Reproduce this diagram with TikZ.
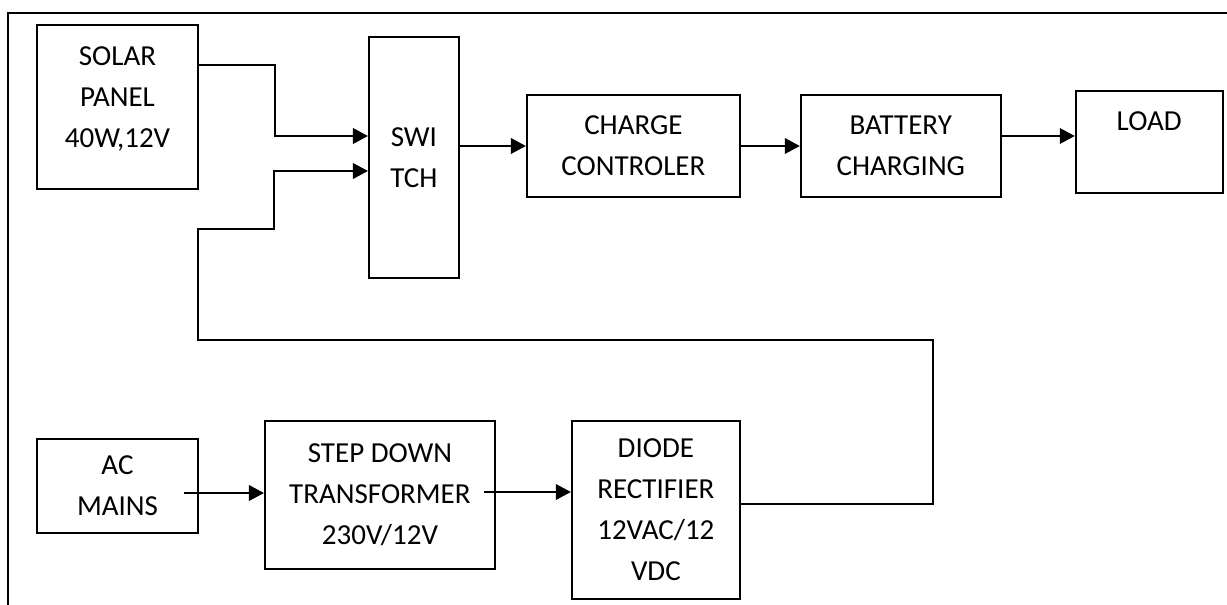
\documentclass[tikz,border=0pt]{standalone}
\usepackage{fontspec}
\setmainfont{Carlito}
\usetikzlibrary{arrows.meta,positioning}
\tikzset{
  unitbox/.style={rectangle, draw=black, line width=1.1pt, align=center,
    font=\fontsize{16.5pt}{23.3pt}\selectfont, inner sep=2pt},
  powerarrow/.style={-{Triangle[length=0.3cm,width=0.31cm]}, draw=black, line width=1.15pt},
}

\begin{document}
\begin{tikzpicture}
  \useasboundingbox (0,0) rectangle (24.54,-12.1);

  % Page frame (only top and left edges show)
  \draw[line width=1.4pt] (0.16,-12.1) |- (24.54,-0.26);

  % Solar side (top row, from left to right)
  \node[unitbox, minimum width=3.22cm, minimum height=3.28cm] (solar) at (2.35,-2.14) {SOLAR\\PANEL\\40W,12V\\[-0.42cm]\mbox{}};
  \node[unitbox, minimum width=1.8cm, minimum height=4.82cm, right=3.38cm of solar, yshift=-1.01cm] (sw) {SWI\\TCH};
  \node[unitbox, minimum width=4.26cm, minimum height=2.04cm, right=1.32cm of sw, yshift=0.23cm] (cc) {CHARGE\\CONTROLER};
  \node[unitbox, minimum width=4cm, minimum height=2.04cm, right=1.18cm of cc] (bat) {BATTERY\\CHARGING};
  \node[unitbox, minimum width=2.94cm, minimum height=2.04cm, right=1.46cm of bat, yshift=0.08cm] (load) {LOAD\\\mbox{}};

  % Mains side (bottom row)
  \node[unitbox, minimum width=3.22cm, minimum height=1.88cm] (mains) at (2.35,-9.72) {AC\\MAINS};
  \node[unitbox, minimum width=4.6cm, minimum height=2.96cm, right=1.3cm of mains, yshift=-0.18cm] (tr) {STEP DOWN\\TRANSFORMER\\230V/12V};
  \node[unitbox, minimum width=3.36cm, minimum height=3.56cm, right=1.5cm of tr, yshift=-0.3cm] (rect) {DIODE\\RECTIFIER\\12VAC/12\\VDC};

  % Bends and line ends
  \coordinate (solarout) at ([yshift=0.84cm]solar.east);
  \coordinate (turnR) at (18.66,-6.8);
  \coordinate (turnL) at (3.96,-4.58);
  \coordinate (joinB) at (5.48,-3.42);
  \coordinate (batout) at ([yshift=0.2cm]bat.east);
  \coordinate (acout) at ([xshift=-0.3cm,yshift=-0.14cm]mains.east);
  \coordinate (trout) at ([xshift=-0.24cm,yshift=0.06cm]tr.east);

  % Arrows: solar chain
  \draw[powerarrow] (solarout) -- ++(1.52,0) |- ([yshift=0.43cm]sw.west);
  \draw[powerarrow] (sw.east |- cc.west) -- (cc.west);
  \draw[powerarrow] (cc) -- (bat);
  \draw[powerarrow] (batout) -- (batout -| load.west);

  % Arrows: mains chain and return to switch
  \draw[powerarrow] (acout) -- (acout -| tr.west);
  \draw[powerarrow] (trout) -- (trout -| rect.west);
  \draw[powerarrow] ([yshift=0.12cm]rect.east) -| (turnR) -| (turnL) -| (joinB) -- (joinB -| sw.west);

\end{tikzpicture}
\end{document}
